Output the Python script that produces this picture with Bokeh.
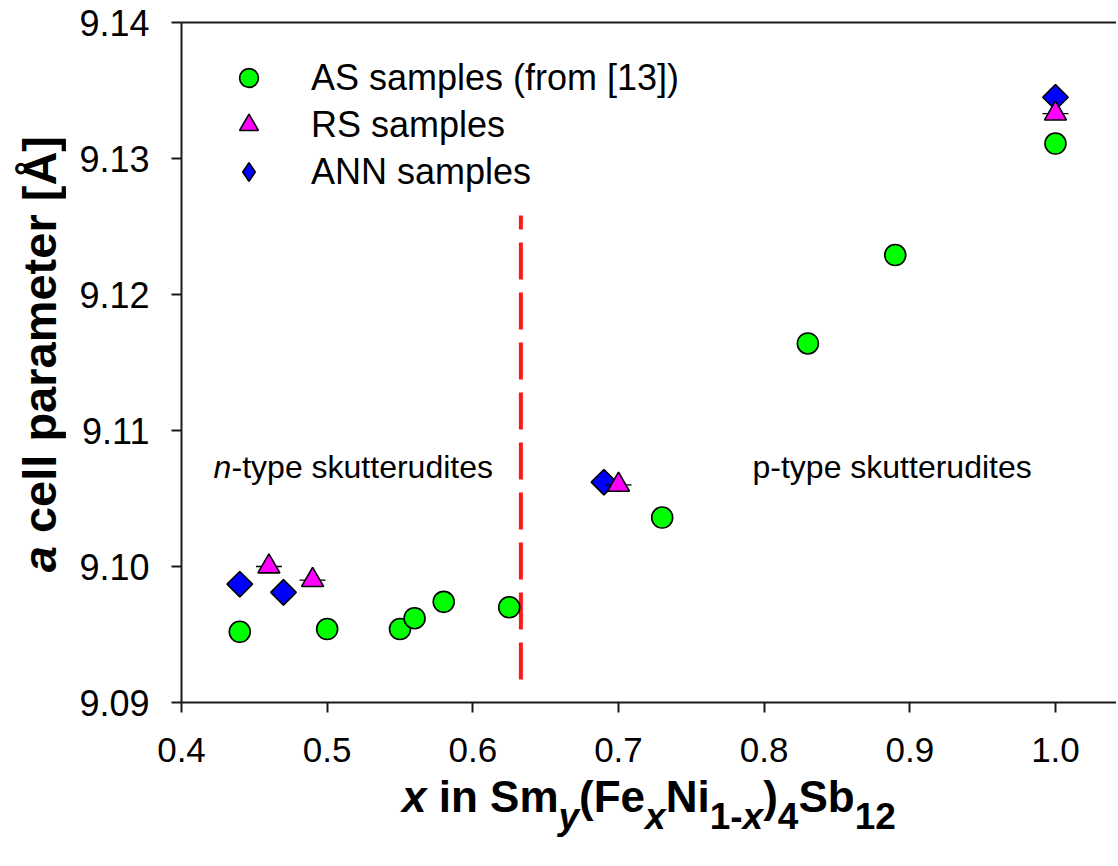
import math
from bokeh.plotting import figure
from bokeh.models import (Range1d, FixedTicker, LinearAxis, Label, Legend,
                          LegendItem, Div)
from bokeh.layouts import row, column
from bokeh.embed import file_html
from bokeh.resources import INLINE

# ---------------- data ----------------
as_x = [0.44, 0.50, 0.55, 0.56, 0.58, 0.625, 0.73, 0.83, 0.89, 1.00]
as_y = [9.0952, 9.0954, 9.0954, 9.0962, 9.0974, 9.0970, 9.1036, 9.1164, 9.1229, 9.1311]

rs_x = [0.46, 0.49, 0.70, 1.00]
rs_y = [9.1000, 9.0990, 9.1060, 9.1333]

ann_x = [0.44, 0.47, 0.69, 1.00]
ann_y = [9.0987, 9.0981, 9.1062, 9.1345]

boundary_x = [0.633, 0.633]
boundary_y = [9.0917, 9.1258]

x_ticks = [0.4, 0.5, 0.6, 0.7, 0.8, 0.9, 1.0]
x_tick_labels = ["0.4", "0.5", "0.6", "0.7", "0.8", "0.9", "1.0"]
y_ticks = [9.09, 9.10, 9.11, 9.12, 9.13, 9.14]
y_tick_labels = ["9.09", "9.10", "9.11", "9.12", "9.13", "9.14"]

series_labels = ["AS samples (from [13])", "RS samples", "ANN samples"]
region_labels = ["n", "-type skutterudites", "p-type skutterudites"]

FONT = "Liberation Sans"
INK = "#1a1a1a"

p = figure(width=1041, height=790, output_backend="svg", toolbar_location=None,
           x_range=Range1d(0.4, 1.0419), y_range=Range1d(9.09, 9.14),
           min_border_left=106, min_border_right=0, min_border_top=22,
           min_border_bottom=88, background_fill_color="white",
           border_fill_color="white", outline_line_color=None, margin=0)
p.grid.visible = False

# axes
for ax in (p.xaxis[0], p.yaxis[0]):
    ax.axis_line_width = 2
    ax.axis_line_color = INK
    ax.major_tick_line_width = 2
    ax.major_tick_line_color = INK
    ax.major_tick_out = 10
    ax.major_tick_in = 0
    ax.minor_tick_line_color = None
    ax.major_label_text_font = FONT
    ax.major_label_text_color = "black"

p.xaxis[0].ticker = FixedTicker(ticks=x_ticks)
p.xaxis[0].major_label_overrides = {t: l for t, l in zip(x_ticks, x_tick_labels)}
p.xaxis[0].major_label_standoff = 25
p.xaxis[0].major_label_text_font_size = "35px"
p.yaxis[0].ticker = FixedTicker(ticks=y_ticks)
p.yaxis[0].major_label_overrides = {t: l for t, l in zip(y_ticks, y_tick_labels)}
p.yaxis[0].major_label_standoff = 22
p.yaxis[0].major_label_text_font_size = "36px"

top = LinearAxis(ticker=FixedTicker(ticks=[]), axis_line_width=2, axis_line_color=INK,
                 major_tick_line_color=None, minor_tick_line_color=None,
                 major_label_text_font_size="0px", major_label_standoff=0)
p.add_layout(top, "above")

# boundary line
p.line(boundary_x, boundary_y, line_color="#ff1a1a", line_width=4, line_dash="37 13")

# series
r_as = p.scatter(as_x, as_y, marker="circle", size=21, fill_color="#00ff00",
                 line_color="black", line_width=1.6)
r_ann = p.scatter(ann_x, ann_y, marker="square", angle=math.pi / 4, size=18,
                  fill_color="#0000ff", line_color="black", line_width=1.6)
# legend proxy for the diamonds (zero size on the plot)
r_ann_leg = p.scatter(ann_x, ann_y, marker="diamond", size=0,
                      fill_color="#0000ff", line_color="black", line_width=1.6)
p.scatter(rs_x, rs_y, marker="dash", size=26, line_color="black", line_width=1.3)
r_rs = p.scatter(rs_x, rs_y, marker="triangle", size=22, fill_color="#ff00ff",
                 line_color="black", line_width=1.6)

legend = Legend(items=[LegendItem(label=series_labels[0], renderers=[r_as]),
                       LegendItem(label=series_labels[1], renderers=[r_rs]),
                       LegendItem(label=series_labels[2], renderers=[r_ann_leg])],
                location=(44, 507), label_text_font=FONT, label_text_font_size="36px",
                label_text_color="black",
                glyph_width=47, glyph_height=47, label_standoff=39, padding=10,
                spacing=0, margin=0, border_line_color=None,
                background_fill_color="white", background_fill_alpha=1.0)
p.add_layout(legend)

# region annotations
p.add_layout(Label(x=0.422, y=9.10735, text=region_labels[0], text_font=FONT,
                   text_font_size="32px", text_color="black",
                   text_font_style="italic", text_baseline="alphabetic"))
p.add_layout(Label(x=0.422, y=9.10735, x_offset=18, text=region_labels[1],
                   text_font=FONT, text_font_size="32px", text_color="black",
                   text_baseline="alphabetic"))
p.add_layout(Label(x=0.792, y=9.10735, text=region_labels[2], text_font=FONT,
                   text_font_size="32px", text_color="black", text_baseline="alphabetic"))

# axis titles as HTML (italic parts and subscripts)
ytitle = Div(width=75, height=790, margin=0, text=(
    "<div style=\"display:inline-block; writing-mode:vertical-rl; transform:rotate(180deg);"
    "font-family:'Liberation Sans'; font-weight:bold; font-size:47px; line-height:50px;"
    "white-space:nowrap; margin-left:15px; margin-top:136px; color:black;\">"
    "<i>a</i> cell parameter [Å]</div>"))

SUB = "<span style=\"font-size:37px; position:relative; top:17px;\">{}</span>"
xtitle = Div(width=1116, height=74, margin=0, text=(
    "<div style=\"font-family:'Liberation Sans'; font-weight:bold; font-size:44px;"
    "line-height:50px; white-space:nowrap; margin-left:402px; margin-top:-18px; color:black;\">"
    "<i>x</i> in Sm" + SUB.format("<i>y</i>") + "(Fe" + SUB.format("<i>x</i>") + "Ni"
    + SUB.format("1-<i>x</i>") + ")" + SUB.format("4") + "Sb" + SUB.format("12")
    + "</div>"))

layout = column(row(ytitle, p, spacing=0), xtitle, spacing=0)

open("out.html", "w").write(file_html(layout, INLINE))
